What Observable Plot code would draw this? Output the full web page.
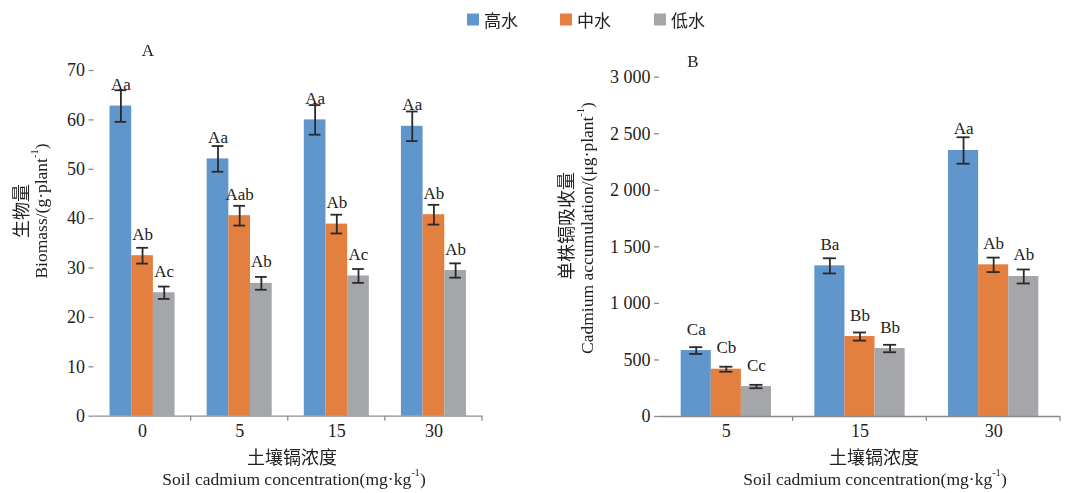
<!DOCTYPE html>
<html>
<head>
<meta charset="utf-8">
<script src="https://cdn.jsdelivr.net/npm/d3@7"></script>
<script src="https://cdn.jsdelivr.net/npm/@observablehq/plot@0.6"></script>
<style>
  body { margin: 0; background: #fff; }
  #wrap { position: relative; width: 1067px; height: 493px; overflow: hidden; }
  #wrap > svg { position: absolute; top: 0; }
  #wrap > svg.titles { will-change: transform; }
</style>
</head>
<body>
<div id="wrap"></div>
<script>
// Water treatments (legend order) and their colours
const seriesNames = ["高水", "中水", "低水"];
const seriesColors = ["#6096cb", "#e37f3f", "#a5a6aa"];

// Panel A: biomass per plant (g) by soil Cd concentration
const groupsA = ["0", "5", "15", "30"];
const biomassHigh = [62.8, 52.1, 60.0, 58.7];
const biomassHighErr = [3.2, 2.6, 3.0, 3.0];
const biomassHighSig = ["Aa", "Aa", "Aa", "Aa"];
const biomassMid = [32.5, 40.6, 38.9, 40.8];
const biomassMidErr = [1.6, 2.0, 1.9, 2.0];
const biomassMidSig = ["Ab", "Aab", "Ab", "Ab"];
const biomassLow = [25.0, 26.9, 28.4, 29.5];
const biomassLowErr = [1.25, 1.3, 1.4, 1.45];
const biomassLowSig = ["Ac", "Ab", "Ac", "Ab"];
const ticksA = [0, 10, 20, 30, 40, 50, 60, 70];

// Panel B: Cd accumulation per plant (μg) by soil Cd concentration
const groupsB = ["5", "15", "30"];
const cdHigh = [583, 1332, 2352];
const cdHighErr = [30, 67, 117];
const cdHighSig = ["Ca", "Ba", "Aa"];
const cdMid = [418, 707, 1341];
const cdMidErr = [22, 36, 64];
const cdMidSig = ["Cb", "Bb", "Ab"];
const cdLow = [265, 601, 1238];
const cdLowErr = [15, 33, 62];
const cdLowSig = ["Cc", "Bb", "Ab"];
const ticksB = [0, 500, 1000, 1500, 2000, 2500, 3000];

const SERIF = '"Liberation Serif", "Times New Roman", serif';
const CJK = '"Noto Sans CJK SC", sans-serif';

function toRows(groups, values, errors, sigs) {
  const out = [];
  groups.forEach((g, i) => {
    seriesNames.forEach((s, k) => {
      out.push({group: g, series: s, value: values[k][i], err: errors[k][i], sig: sigs[k][i]});
    });
  });
  return out;
}

const rowsA = toRows(groupsA,
  [biomassHigh, biomassMid, biomassLow],
  [biomassHighErr, biomassMidErr, biomassLowErr],
  [biomassHighSig, biomassMidSig, biomassLowSig]);
const rowsB = toRows(groupsB,
  [cdHigh, cdMid, cdLow],
  [cdHighErr, cdMidErr, cdLowErr],
  [cdHighSig, cdMidSig, cdLowSig]);

const spaceThousands = d3.formatLocale({decimal: ".", thousands: " ", grouping: [3], currency: ["", ""]}).format(",");

function panel({rows, groups, yDomain, yTicks, tickFormat, width, margins, padOuter, capInset}) {
  const lo = d => d.value - d.err;
  const hi = d => d.value + d.err;
  const plot = Plot.plot({
    width, height: 493,
    marginTop: margins[0], marginRight: margins[1], marginBottom: margins[2], marginLeft: margins[3],
    style: {fontFamily: SERIF, fontSize: "18px", color: "#222", background: "transparent", overflow: "visible"},
    fx: {domain: groups, padding: 0, round: false},
    x: {domain: seriesNames, paddingInner: 0, paddingOuter: padOuter, round: false, axis: null},
    y: {domain: yDomain},
    color: {domain: seriesNames, range: seriesColors},
    marks: [
      Plot.barY(rows, {fx: "group", x: "series", y: "value", fill: "series"}),
      Plot.ruleY([0], {stroke: "#8c8c8c", strokeWidth: 1.3}),
      Plot.ruleX(rows, {fx: "group", x: "series", y1: lo, y2: hi, stroke: "#2a2a2a", strokeWidth: 1.8}),
      Plot.tickY(rows, {fx: "group", x: "series", y: lo, stroke: "#2a2a2a", strokeWidth: 1.8, insetLeft: capInset, insetRight: capInset}),
      Plot.tickY(rows, {fx: "group", x: "series", y: hi, stroke: "#2a2a2a", strokeWidth: 1.8, insetLeft: capInset, insetRight: capInset}),
      Plot.text(rows, {fx: "group", x: "series", y: "value", text: "sig", dy: -16, lineAnchor: "bottom", fontSize: 17, fontFamily: SERIF, fill: "#222"}),
      Plot.axisY({ticks: yTicks, tickFormat, tickSize: 5, tickPadding: 4, line: true, stroke: "#8c8c8c", strokeWidth: 1.3, fill: "#222", fontFamily: SERIF, fontSize: 18, label: null}),
      Plot.axisFx({anchor: "bottom", tickSize: 0, tickPadding: 8, fill: "#222", fontFamily: SERIF, fontSize: 18, label: null})
    ]
  });
  // Category-boundary tick marks below the baseline, taken from the facet scale
  const fx = plot.scale("fx");
  const y0 = plot.scale("y").apply(0);
  const g = d3.select(plot).append("g").attr("stroke", "#8c8c8c").attr("stroke-width", 1.3);
  groups.forEach(k => {
    const xb = fx.apply(k) + fx.bandwidth;
    g.append("line").attr("x1", xb).attr("x2", xb).attr("y1", y0).attr("y2", y0 + 5);
  });
  return plot;
}

const wrap = document.getElementById("wrap");

const plotA = panel({
  rows: rowsA, groups: groupsA, yDomain: [0, 70], yTicks: ticksA, tickFormat: d3.format("d"),
  width: 540, margins: [70, 58, 77.3, 93.5], padOuter: 0.74, capInset: 5
});
plotA.style.left = "0px";
wrap.appendChild(plotA);

const plotB = panel({
  rows: rowsB, groups: groupsB, yDomain: [0, 3000], yTicks: ticksB, tickFormat: spaceThousands,
  width: 527, margins: [76.7, 7, 77, 119], padOuter: 0.72, capInset: 8.5
});
plotB.style.left = "540px";
wrap.appendChild(plotB);

// Legend, panel letters and axis titles on a full-size overlay
const overlay = d3.select(wrap).append("svg")
  .attr("class", "titles")
  .attr("width", 1067).attr("height", 493)
  .style("left", "0px").style("pointer-events", "none");

function title(x, y, parts, {size = 17.5, family = SERIF, rotate = false} = {}) {
  const t = overlay.append("text")
    .attr("transform", `translate(${x},${y})` + (rotate ? " rotate(-90)" : ""))
    .attr("text-anchor", "middle").attr("dominant-baseline", "central")
    .attr("font-family", family).attr("font-size", size).attr("fill", "#222");
  let raised = false;
  parts.forEach(p => {
    if (typeof p === "string") {
      const s = t.append("tspan").text(p);
      if (raised) s.attr("dy", size * 0.38);
      raised = false;
    } else {
      t.append("tspan").attr("font-size", size * 0.6).attr("dy", -size * 0.38).text(p.sup);
      raised = true;
    }
  });
  return t;
}

const legendX = [467, 560, 654];
seriesNames.forEach((s, i) => {
  overlay.append("rect").attr("x", legendX[i]).attr("y", 13.5).attr("width", 12).attr("height", 12)
    .attr("fill", seriesColors[i]);
  overlay.append("text").attr("x", legendX[i] + 17).attr("y", 19.5)
    .attr("dominant-baseline", "central").attr("font-family", CJK).attr("font-size", 17)
    .attr("fill", "#222").text(s);
});

title(148, 50, ["A"], {size: 17});
title(693, 61, ["B"], {size: 17});

title(20, 211, ["生物量"], {size: 18, family: CJK, rotate: true});
title(41, 211, ["Biomass/(g·plant", {sup: "-1"}, ")"], {rotate: true});
title(565, 226, ["单株镉吸收量"], {size: 18, family: CJK, rotate: true});
title(587, 228, ["Cadmium accumulation/(μg·plant", {sup: "-1"}, ")"], {rotate: true});

title(292, 456, ["土壤镉浓度"], {size: 18, family: CJK});
title(294, 479, ["Soil cadmium concentration(mg·kg", {sup: "-1"}, ")"]);
title(874, 456, ["土壤镉浓度"], {size: 18, family: CJK});
title(875, 479, ["Soil cadmium concentration(mg·kg", {sup: "-1"}, ")"]);
</script>
</body>
</html>
